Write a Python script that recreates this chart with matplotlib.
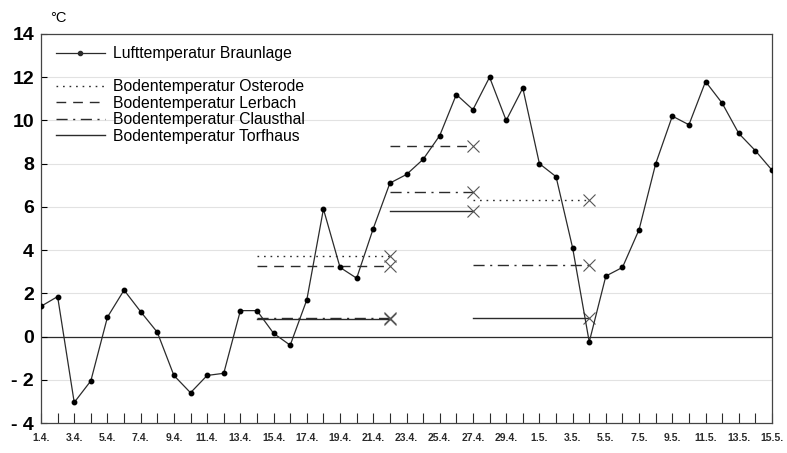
"""Lufttemperatur Braunlage vs. Bodentemperaturen, 1.4.-15.5."""
import matplotlib
matplotlib.use("Agg")
import matplotlib.pyplot as plt
from matplotlib.lines import Line2D

plt.rcParams["font.family"] = ["Liberation Sans", "DejaVu Sans"]

# day index 0 = 1.4., 44 = 15.5.
AIR_TEMP = [1.4, 1.85, -3.05, -2.05, 0.9, 2.15, 1.15, 0.2, -1.8, -2.6,
            -1.8, -1.7, 1.2, 1.2, 0.15, -0.4, 1.7, 5.9, 3.2, 2.7,
            5.0, 7.1, 7.5, 8.2, 9.3, 11.2, 10.5, 12.0, 10.0, 11.5,
            8.0, 7.4, 4.1, -0.25, 2.8, 3.2, 4.95, 8.0, 10.2, 9.8,
            11.8, 10.8, 9.4, 8.6, 7.7]

DATE_LABELS = ["1.4.", "3.4.", "5.4.", "7.4.", "9.4.", "11.4.", "13.4.",
               "15.4.", "17.4.", "19.4.", "21.4.", "23.4.", "25.4.",
               "27.4.", "29.4.", "1.5.", "3.5.", "5.5.", "7.5.", "9.5.",
               "11.5.", "13.5.", "15.5."]

# soil temperature: measurement periods (start day, end day) and mean value
OSTERODE_START = [13, 26]
OSTERODE_END = [21, 33]
OSTERODE_VAL = [3.75, 6.3]

LERBACH_START = [13, 21]
LERBACH_END = [21, 26]
LERBACH_VAL = [3.25, 8.8]

CLAUSTHAL_START = [13, 21, 26]
CLAUSTHAL_END = [21, 26, 33]
CLAUSTHAL_VAL = [0.85, 6.7, 3.3]

TORFHAUS_START = [13, 21, 26]
TORFHAUS_END = [21, 26, 33]
TORFHAUS_VAL = [0.8, 5.8, 0.85]

DOTTED = (0, (1.2, 3.5))
DASHED = (0, (7, 5))
DASHDOT = (0, (8, 4, 1.5, 4))
INK = "#2b2b2b"


def soil(ax, starts, ends, vals, ls):
    for s, e, v in zip(starts, ends, vals):
        ax.plot([s, e], [v, v], color=INK, lw=1.0, ls=ls)
        ax.plot([e], [v], marker="x", ms=8, mew=0.8, color="#555555")


def main():
    fig = plt.figure(figsize=(7.87, 4.53), dpi=100)
    ax = fig.add_axes([41 / 787, 30 / 453, 731 / 787, 389 / 453])

    days = list(range(len(AIR_TEMP)))
    for y in range(-2, 14, 2):
        ax.axhline(y, color="#e2e2e2", lw=0.8, zorder=0)
    ax.axhline(0, color=INK, lw=0.9, zorder=1)

    ax.plot(days, AIR_TEMP, color=INK, lw=0.9, marker="o", ms=3.2,
            mfc="black", mec="black", zorder=3)

    soil(ax, OSTERODE_START, OSTERODE_END, OSTERODE_VAL, DOTTED)
    soil(ax, LERBACH_START, LERBACH_END, LERBACH_VAL, DASHED)
    soil(ax, CLAUSTHAL_START, CLAUSTHAL_END, CLAUSTHAL_VAL, DASHDOT)
    soil(ax, TORFHAUS_START, TORFHAUS_END, TORFHAUS_VAL, "-")

    ax.set_xlim(0, len(AIR_TEMP) - 1)
    ax.set_ylim(-4, 14)
    ax.set_xticks(days)
    ax.set_xticklabels([DATE_LABELS[d // 2] if d % 2 == 0 else ""
                        for d in days], fontsize=7.5, fontweight="bold")
    ax.set_yticks(range(-4, 15, 2))
    ax.set_yticklabels([f"{v}" if v >= 0 else f"- {abs(v)}"
                        for v in range(-4, 15, 2)],
                       fontsize=14, fontweight="bold")
    ax.tick_params(axis="x", direction="in", length=7, width=0.8,
                   pad=7, colors=INK)
    ax.tick_params(axis="y", direction="in", length=4, width=0.8,
                   pad=5, colors="black")
    for sp in ax.spines.values():
        sp.set_color("#444444")
        sp.set_linewidth(0.9)

    ax.text(0.012, 1.022, "°C", transform=ax.transAxes, fontsize=10.5,
            ha="left", va="bottom")

    handles = [
        Line2D([], [], color=INK, lw=0.9, marker="o", ms=3,
               markevery=[1], label="Lufttemperatur Braunlage"),
        Line2D([], [], ls="none", label=" "),
        Line2D([], [], color=INK, lw=1.0, ls=DOTTED,
               label="Bodentemperatur Osterode"),
        Line2D([], [], color=INK, lw=1.0, ls=DASHED,
               label="Bodentemperatur Lerbach"),
        Line2D([], [], color=INK, lw=1.0, ls=DASHDOT,
               label="Bodentemperatur Clausthal"),
        Line2D([], [], color=INK, lw=1.0, ls="-",
               label="Bodentemperatur Torfhaus"),
    ]
    ax.legend(handles=handles, loc="upper left",
              bbox_to_anchor=(0.012, 0.985), frameon=False, fontsize=11.3,
              handlelength=3.1, handletextpad=0.55, labelspacing=0.1,
              borderaxespad=0)

    fig.savefig("out.png", dpi=100, facecolor="white")


if __name__ == "__main__":
    main()
